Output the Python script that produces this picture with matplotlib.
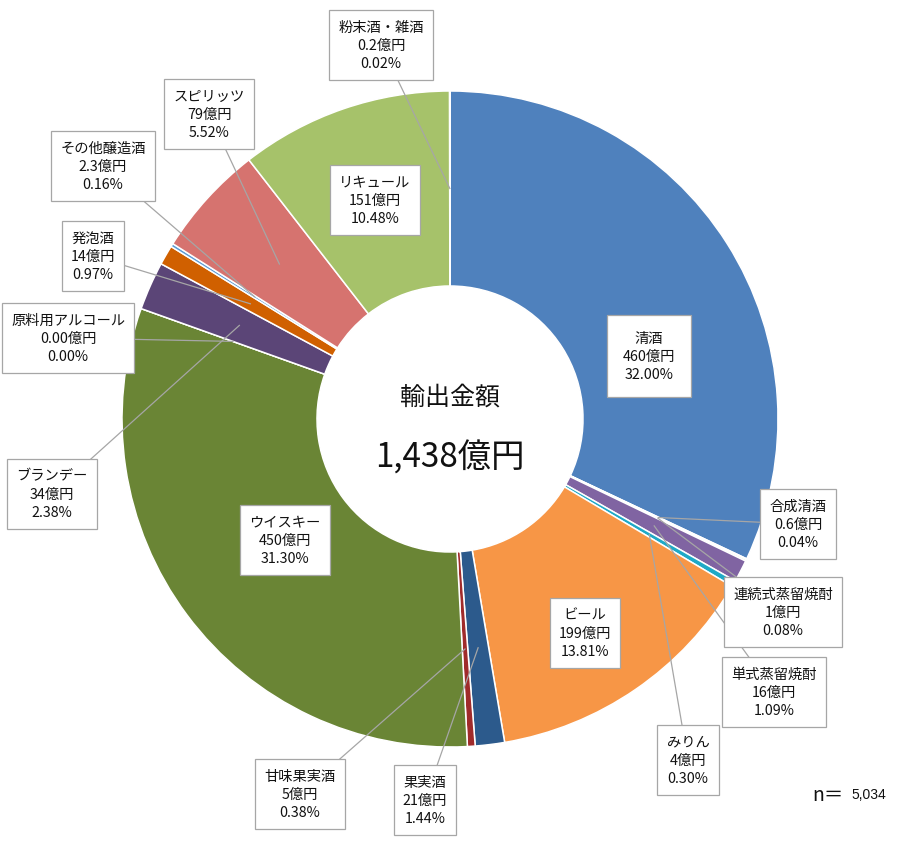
import matplotlib.pyplot as plt
import numpy as np

plt.rcParams['font.family'] = ['Noto Sans CJK JP', 'DejaVu Sans']

# data, clockwise from 12 o'clock
names = ['清酒', '合成清酒', '連続式蒸留焼酎', '単式蒸留焼酎', 'みりん', 'ビール',
         '果実酒', '甘味果実酒', 'ウイスキー', '原料用アルコール', 'ブランデー',
         '発泡酒', 'その他醸造酒', 'スピリッツ', 'リキュール', '粉末酒・雑酒']
amounts = ['460', '0.6', '1', '16', '4', '199', '21', '5', '450', '0.00',
           '34', '14', '2.3', '79', '151', '0.2']
pcts = [32.00, 0.04, 0.08, 1.09, 0.30, 13.81, 1.44, 0.38, 31.30, 0.00,
        2.38, 0.97, 0.16, 5.52, 10.48, 0.02]
colors = ['#4F81BD', '#C0504D', '#9BBB59', '#8064A2', '#1FA9C6', '#F79646',
          '#2C5A8C', '#A02B2B', '#6A8535', '#FFFFFF', '#5B4577',
          '#D06000', '#5B9BD5', '#D6736F', '#A6C26A', '#D9D9D9']
total_label = '1,438億円'
n_label = '5,034'

# label box centres in pixels (x right, y down) and whether a leader line is drawn
label_pos = [(649, 357), (798, 525), (783, 613), (774, 693), (688, 761), (585, 634),
             (425, 801), (300, 795), (285, 541), (68, 339), (52, 495),
             (93, 257), (103, 167), (209, 115), (375, 201), (381, 46)]
leader = [False, True, True, True, True, False, True, True, False, True, True,
          True, True, True, False, True]

W, H = 900, 853
cx, cy = 450, 420
R, r_in = 328, 133

fig = plt.figure(figsize=(W / 100, H / 100), dpi=100)
ax = fig.add_axes([0, 0, 1, 1])

vals = [max(p, 1e-6) for p in pcts]
ax.pie(vals, colors=colors, startangle=90, counterclock=False,
       center=(cx, H - cy), radius=R,
       wedgeprops=dict(width=R - r_in, edgecolor='white', linewidth=1.1))
ax.set_xlim(0, W)
ax.set_ylim(0, H)
ax.set_aspect('equal')
ax.axis('off')

# leader lines + labels
cum = np.cumsum([0] + vals)
tot = cum[-1]
rmid = (R + r_in) / 2
for i, name in enumerate(names):
    lx, ly = label_pos[i]
    txt = f'{name}\n{amounts[i]}億円\n{pcts[i]:.2f}%'
    if leader[i]:
        ang = np.deg2rad((cum[i] + cum[i + 1]) / 2 / tot * 360)
        ax_x = cx + rmid * np.sin(ang)
        ax_y = cy - rmid * np.cos(ang)
        ax.plot([ax_x, lx], [H - ax_y, H - ly], color='#A6A6A6', lw=0.9, zorder=3)
    pad = 1.1 if i == 0 else 0.65
    ax.text(lx, H - ly, txt, ha='center', va='center', fontsize=10.3,
            linespacing=1.4, color='#111111', zorder=5,
            bbox=dict(boxstyle=f'square,pad={pad}', facecolor='white',
                      edgecolor='#A6A6A6', linewidth=0.9))

ax.text(cx, H - 398, '輸出金額', ha='center', va='center', fontsize=18, color='#111111')
ax.text(cx, H - 458, total_label, ha='center', va='center', fontsize=24, color='#111111')

ax.text(812, H - 796, 'n＝', ha='left', va='center', fontsize=14, color='#111111')
ax.text(851, H - 795, n_label, ha='left', va='center', fontsize=10, color='#111111',
        family=['Liberation Sans', 'DejaVu Sans'])

fig.savefig('out.png', dpi=100)
